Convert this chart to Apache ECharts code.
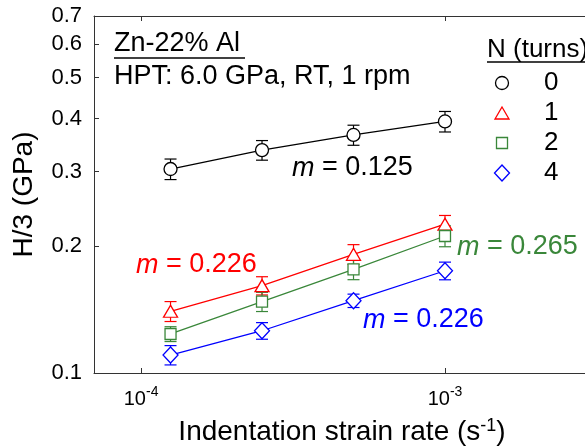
<!DOCTYPE html>
<html>
<head>
<meta charset="utf-8">
<script src="https://cdn.jsdelivr.net/npm/echarts@6/dist/echarts.min.js"></script>
<style>
  html, body { margin: 0; padding: 0; background: #fff; }
  #chart { width: 585px; height: 446px; }
</style>
</head>
<body>
<div id="chart"></div>
<script>
// strain rates (s^-1)
const rates = [1.25e-4, 2.5e-4, 5e-4, 1e-3];
const turns = ['0', '1', '2', '4'];
// H/3 (GPa) for each number of turns
const h0 = [0.304, 0.337, 0.366, 0.394];
const h1 = [0.140, 0.161, 0.191, 0.225];
const h2 = [0.1237, 0.1475, 0.176, 0.211];
const h4 = [0.1103, 0.1259, 0.1483, 0.1746];
// error bar half widths
const err0 = [0.017, 0.018, 0.020, 0.022];
const err1 = [0.0076, 0.008, 0.0103, 0.011];
const err2 = [0.005, 0.0077, 0.0097, 0.012];
const err4 = [0.0058, 0.0057, 0.0054, 0.0084];
const slopes = ['0.125', '0.226', '0.265', '0.226'];
const yTicks = [0.1, 0.2, 0.3, 0.4, 0.5, 0.6, 0.7];
const xTicks = [1e-4, 1e-3];

const FONT = '"Liberation Sans", Arial, sans-serif';
const AXIS = '#333';
const groups = [
  {name: turns[0], vals: h0, errs: err0, color: '#000000', symbol: 'circle', size: 13},
  {name: turns[1], vals: h1, errs: err1, color: '#ff0000', symbol: 'triangle', size: [14, 12]},
  {name: turns[2], vals: h2, errs: err2, color: '#3a873a', symbol: 'rect', size: 11},
  {name: turns[3], vals: h4, errs: err4, color: '#0000ff', symbol: 'diamond', size: [15, 16]}
];

const chart = echarts.init(document.getElementById('chart'));

function errSeries(g) {
  return {
    type: 'custom',
    silent: true,
    z: 1,
    encode: {x: 0, y: [1, 2]},
    data: rates.map((r, i) => [r, g.vals[i] - g.errs[i], g.vals[i] + g.errs[i]]),
    renderItem(params, api) {
      const lo = api.coord([api.value(0), api.value(1)]);
      const hi = api.coord([api.value(0), api.value(2)]);
      const w = 6;
      const st = {stroke: g.color, lineWidth: 1.2};
      return {
        type: 'group',
        children: [
          {type: 'line', shape: {x1: lo[0], y1: lo[1], x2: hi[0], y2: hi[1]}, style: st},
          {type: 'line', shape: {x1: lo[0] - w, y1: lo[1], x2: lo[0] + w, y2: lo[1]}, style: st},
          {type: 'line', shape: {x1: hi[0] - w, y1: hi[1], x2: hi[0] + w, y2: hi[1]}, style: st}
        ]
      };
    }
  };
}

function lineSeries(g) {
  return {
    type: 'line',
    name: g.name,
    z: 3,
    data: rates.map((r, i) => [r, g.vals[i]]),
    symbol: g.symbol,
    symbolSize: g.size,
    itemStyle: {color: '#fff', borderColor: g.color, borderWidth: 1.3},
    lineStyle: {color: g.color, width: 1.3},
    emphasis: {disabled: true}
  };
}

function text(x, y, str, color, size, extra) {
  return Object.assign({
    type: 'text', x: x, y: y, silent: true,
    style: {
      text: str, fill: color, fontSize: size, fontFamily: FONT,
      align: 'left', verticalAlign: 'middle'
    }
  }, extra || {});
}

function slopeText(x, y, val, color) {
  return {
    type: 'text', x: x, y: y, silent: true,
    style: {
      text: '{i|m} = ' + val,
      fill: color, fontSize: 27, fontFamily: FONT,
      align: 'left', verticalAlign: 'middle',
      rich: {i: {fontStyle: 'italic', fontSize: 27, fontFamily: FONT, fill: color}}
    }
  };
}

// legend drawn by hand: marker + number
const legendX = 502, legendTop = 83, legendStep = 30;
const legendItems = [];
groups.forEach((g, i) => {
  const cy = legendTop + i * legendStep;
  const st = {fill: '#fff', stroke: g.color, lineWidth: 1.3};
  let shape;
  if (g.symbol === 'circle') {
    shape = {type: 'circle', shape: {cx: legendX, cy: cy, r: 6.5}, style: st};
  } else if (g.symbol === 'triangle') {
    shape = {type: 'polygon', shape: {points: [[legendX, cy - 6], [legendX + 7, cy + 6], [legendX - 7, cy + 6]]}, style: st};
  } else if (g.symbol === 'rect') {
    shape = {type: 'rect', shape: {x: legendX - 5.5, y: cy - 5.5, width: 11, height: 11}, style: st};
  } else {
    shape = {type: 'polygon', shape: {points: [[legendX, cy - 8], [legendX + 7.5, cy], [legendX, cy + 8], [legendX - 7.5, cy]]}, style: st};
  }
  legendItems.push(shape);
  legendItems.push(text(544, cy, g.name, '#000', 26));
});

chart.setOption({
  animation: false,
  textStyle: {fontFamily: FONT},
  grid: {left: 94, top: 16, right: -5, bottom: 73, outerBoundsMode: 'none', containLabel: false},
  xAxis: [{
    type: 'log', logBase: 10, min: 7e-5, max: 3e-3, position: 'bottom',
    axisLine: {show: true, lineStyle: {color: AXIS, width: 1}},
    axisTick: {show: true, inside: true, length: 5, customValues: xTicks, lineStyle: {color: AXIS}},
    axisLabel: {
      customValues: xTicks, margin: 12, color: '#000',
      formatter: v => '{b|10}{s|' + Math.round(Math.log10(v)) + '}',
      rich: {
        b: {fontSize: 20, fontFamily: FONT, color: '#000', lineHeight: 24, verticalAlign: 'bottom'},
        s: {fontSize: 14, fontFamily: FONT, color: '#000', lineHeight: 24, verticalAlign: 'top'}
      }
    },
    splitLine: {show: false},
    minorTick: {show: false},
    name: 'Indentation strain rate (s{s|-1})',
    nameLocation: 'middle', nameGap: 44,
    nameTextStyle: {
      fontSize: 28, color: '#000', fontFamily: FONT,
      rich: {s: {fontSize: 18, fontFamily: FONT, color: '#000', verticalAlign: 'top', lineHeight: 30}}
    }
  }, {
    type: 'log', logBase: 10, min: 7e-5, max: 3e-3, position: 'top',
    axisLine: {show: true, lineStyle: {color: AXIS, width: 1}},
    axisTick: {show: true, inside: true, length: 5, customValues: xTicks, lineStyle: {color: AXIS}},
    axisLabel: {show: false},
    splitLine: {show: false}
  }],
  yAxis: [{
    type: 'log', logBase: 10, min: 0.1, max: 0.7,
    axisLine: {show: true, lineStyle: {color: AXIS, width: 1}},
    axisTick: {show: true, inside: true, length: 5, customValues: yTicks, lineStyle: {color: AXIS}},
    axisLabel: {
      customValues: yTicks, margin: 12, color: '#000', fontSize: 22, fontFamily: FONT,
      formatter: v => (Math.round(v * 10) / 10).toFixed(1)
    },
    splitLine: {show: false},
    name: 'H/3 (GPa)', nameLocation: 'middle', nameGap: 56, nameRotate: 90,
    nameTextStyle: {fontSize: 28, color: '#000', fontFamily: FONT}
  }, {
    type: 'log', logBase: 10, min: 0.1, max: 0.7, position: 'right',
    axisLine: {show: true, lineStyle: {color: AXIS, width: 1}},
    axisTick: {show: true, inside: true, length: 5, customValues: yTicks, lineStyle: {color: AXIS}},
    axisLabel: {show: false},
    splitLine: {show: false}
  }],
  series: groups.map(errSeries).concat(groups.map(lineSeries)),
  graphic: [
    text(114, 44, 'Zn-22% Al', '#000', 27),
    {type: 'line', silent: true, shape: {x1: 114, y1: 58, x2: 245, y2: 58}, style: {stroke: '#000', lineWidth: 1.5}},
    text(114, 77, 'HPT: 6.0 GPa, RT, 1 rpm', '#000', 27),
    text(487, 50, 'N (turns)', '#000', 26),
    {type: 'line', silent: true, shape: {x1: 487, y1: 62, x2: 585, y2: 62}, style: {stroke: '#000', lineWidth: 1.5}},
    slopeText(292, 168, slopes[0], '#000'),
    slopeText(136, 265, slopes[1], '#ff0000'),
    slopeText(457, 247, slopes[2], '#3a873a'),
    slopeText(363, 320, slopes[3], '#0000ff')
  ].concat(legendItems)
});
</script>
</body>
</html>
